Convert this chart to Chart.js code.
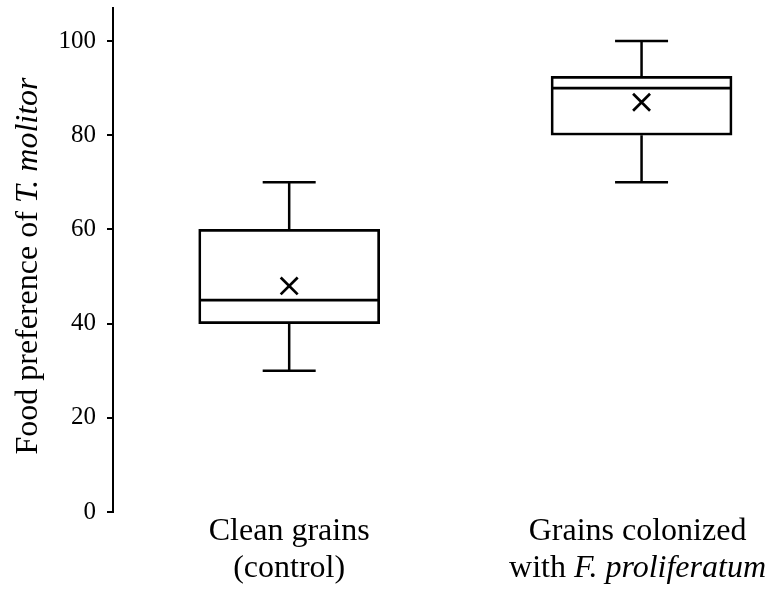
<!DOCTYPE html>
<html>
<head>
<meta charset="utf-8">
<script src="https://cdn.jsdelivr.net/npm/chart.js@4.4.1/dist/chart.umd.min.js"></script>
<style>
  html, body { margin: 0; padding: 0; background: #fff; }
  #wrap { width: 767px; height: 594px; position: relative; }
</style>
</head>
<body>
<div id="wrap"><canvas id="c"></canvas></div>
<script>
// ---- data ----
const categoryLine1 = ['Clean grains', 'Grains colonized'];
const categoryLine2 = [
  [{ t: '(control)', i: false }],
  [{ t: 'with ', i: false }, { t: 'F. proliferatum', i: true }]
];
const positions = [1, 2];
const whiskerLow = [30, 70];
const q1 = [40, 80];
const median = [45, 90];
const q3 = [60, 92.5];
const whiskerHigh = [70, 100];
const mean = [48, 87];
const yTicks = [0, 20, 40, 60, 80, 100];
const yTitleNormal = 'Food preference of ';
const yTitleItalic = 'T. molitor';

const FONT = '"Liberation Serif", "Times New Roman", serif';

// build datasets from arrays
const boxData = positions.map((p, i) => ({ x: p, y: [q1[i], q3[i]] }));
const medianData = positions.map((p, i) => ({ x: p, y: median[i] }));
const meanData = positions.map((p, i) => ({ x: p, y: mean[i] }));
const capData = [];
const whiskerData = [];
positions.forEach((p, i) => {
  capData.push({ x: p, y: whiskerLow[i] }, { x: p, y: whiskerHigh[i] });
  whiskerData.push({ x: p, y: q1[i] }, { x: p, y: whiskerLow[i] }, { x: p, y: null });
  whiskerData.push({ x: p, y: q3[i] }, { x: p, y: whiskerHigh[i] }, { x: p, y: null });
});

const textPlugin = {
  id: 'texts',
  afterDraw(chart) {
    const ctx = chart.ctx;
    const xs = chart.scales.x;
    ctx.save();
    ctx.fillStyle = '#000';
    const size = 32;
    positions.forEach((p, i) => {
      const cx0 = xs.getPixelForValue(p);
      ctx.font = size + 'px ' + FONT;
      const w1 = ctx.measureText(categoryLine1[i]).width;
      let w2 = 0;
      categoryLine2[i].forEach(s => {
        ctx.font = (s.i ? 'italic ' : '') + size + 'px ' + FONT;
        w2 += ctx.measureText(s.t).width;
      });
      const maxW = Math.max(w1, w2);
      let cx = cx0;
      if (cx + maxW / 2 > chart.width - 1) cx = chart.width - 1 - maxW / 2;
      ctx.textBaseline = 'alphabetic';
      ctx.textAlign = 'left';
      ctx.font = size + 'px ' + FONT;
      ctx.fillText(categoryLine1[i], cx - w1 / 2, 540);
      let x = cx - w2 / 2;
      categoryLine2[i].forEach(s => {
        ctx.font = (s.i ? 'italic ' : '') + size + 'px ' + FONT;
        ctx.fillText(s.t, x, 577);
        x += ctx.measureText(s.t).width;
      });
    });
    // y title
    ctx.translate(37, 266);
    ctx.rotate(-Math.PI / 2);
    ctx.font = size + 'px ' + FONT;
    const wa = ctx.measureText(yTitleNormal).width;
    ctx.font = 'italic ' + size + 'px ' + FONT;
    const wb = ctx.measureText(yTitleItalic).width;
    const start = -(wa + wb) / 2;
    ctx.font = size + 'px ' + FONT;
    ctx.fillText(yTitleNormal, start, 0);
    ctx.font = 'italic ' + size + 'px ' + FONT;
    ctx.fillText(yTitleItalic, start + wa, 0);
    ctx.restore();
  }
};

new Chart(document.getElementById('c'), {
  type: 'bar',
  data: {
    datasets: [
      {
        type: 'line',
        data: whiskerData,
        borderColor: '#000',
        borderWidth: 2.5,
        pointRadius: 0,
        spanGaps: false,
        fill: false,
        clip: false,
        order: 4
      },
      {
        type: 'scatter',
        data: capData,
        pointStyle: 'line',
        pointRadius: 26.5,
        pointBorderColor: '#000',
        pointBorderWidth: 2.5,
        clip: false,
        order: 4
      },
      {
        type: 'bar',
        data: boxData,
        backgroundColor: '#fff',
        borderColor: '#000',
        borderWidth: 2.7,
        borderSkipped: false,
        barThickness: 181,
        order: 3
      },
      {
        type: 'scatter',
        data: medianData,
        pointStyle: 'line',
        pointRadius: 89,
        pointBorderColor: '#000',
        pointBorderWidth: 2.7,
        clip: false,
        order: 1
      },
      {
        type: 'scatter',
        data: meanData,
        pointStyle: 'crossRot',
        pointRadius: 12,
        pointBorderColor: '#000',
        pointBorderWidth: 2.7,
        clip: false,
        order: 1
      }
    ]
  },
  options: {
    responsive: true,
    maintainAspectRatio: false,
    animation: false,
    layout: { autoPadding: false, padding: { top: 8, bottom: 82, left: 0, right: 0 } },
    plugins: { legend: { display: false }, tooltip: { enabled: false } },
    scales: {
      x: {
        type: 'linear',
        min: 0.5,
        max: 2.356,
        offset: false,
        display: false
      },
      y: {
        type: 'linear',
        min: 0,
        max: 107,
        afterBuildTicks: (s) => { s.ticks = yTicks.map(v => ({ value: v })); },
        afterFit: (s) => {
          s.width = 113;
          s.paddingTop = 0; s.paddingBottom = 0; s.paddingLeft = 0; s.paddingRight = 0;
        },
        border: { display: true, color: '#000', width: 2 },
        grid: { drawOnChartArea: false, drawTicks: true, tickLength: 6, color: '#000', lineWidth: 2 },
        ticks: {
          color: '#000',
          padding: 11,
          font: { family: FONT, size: 25 },
          callback: (v) => String(v)
        }
      }
    }
  },
  plugins: [textPlugin]
});
</script>
</body>
</html>
